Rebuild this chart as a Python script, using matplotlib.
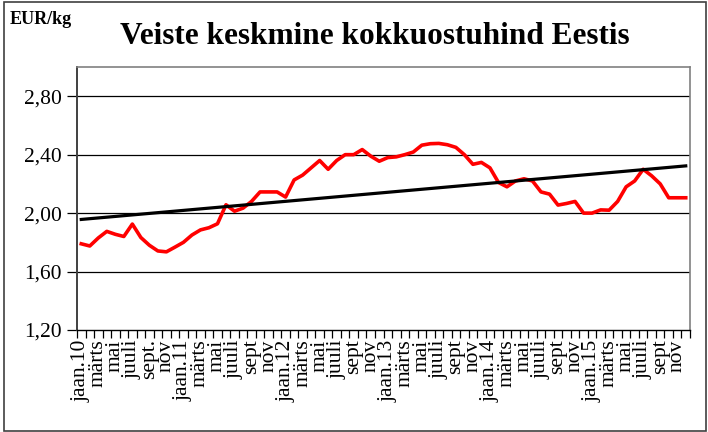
import numpy as np
import matplotlib
matplotlib.use("Agg")
import matplotlib.pyplot as plt
from matplotlib.patches import Rectangle

plt.rcParams['font.family'] = ['Liberation Serif', 'DejaVu Serif']

# monthly average purchase price of cattle, jan 2010 .. dec 2015 (EUR/kg)
prices = [
    1.79, 1.775, 1.83, 1.875, 1.855, 1.84, 1.925, 1.833, 1.78, 1.741, 1.735, 1.767,
    1.80, 1.85, 1.885, 1.90, 1.927, 2.057, 2.013, 2.034, 2.08, 2.145, 2.145, 2.145,
    2.11, 2.227, 2.26, 2.31, 2.36, 2.30, 2.36, 2.40, 2.40, 2.435, 2.39, 2.355,
    2.38, 2.385, 2.40, 2.418, 2.465, 2.475, 2.477, 2.468, 2.45, 2.40, 2.334, 2.347,
    2.31, 2.21, 2.18, 2.22, 2.235, 2.22, 2.145, 2.13, 2.055, 2.066, 2.08, 2.00,
    2.00, 2.022, 2.02, 2.08, 2.18, 2.22, 2.30, 2.255, 2.20, 2.105, 2.105, 2.105,
]
# labels shown for every second month
month_labels = [
    "jaan.10", "märts", "mai", "juuli", "sept.", "nov",
    "jaan.11", "märts", "mai", "juuli", "sept", "nov",
    "jaan.12", "märts", "mai", "juuli", "sept", "nov",
    "jaan.13", "märts", "mai", "juuli", "sept", "nov",
    "jaan.14", "märts", "mai", "juuli", "sept", "nov",
    "jaan.15", "märts", "mai", "juuli", "sept", "nov",
]
y_ticks = [1.20, 1.60, 2.00, 2.40, 2.80]

n = len(prices)
x = np.arange(n) + 0.5

fig = plt.figure(figsize=(7.08, 4.32), dpi=100)
ax = fig.add_axes([77/708, 1 - 330/432, (690 - 77)/708, (330 - 67)/432])

ax.set_xlim(0, n)
ax.set_ylim(1.2, 3.0)

for v in y_ticks[1:]:
    ax.axhline(v, color='black', lw=0.9, zorder=1)

ax.plot(x, prices, color='#ff0000', lw=2.6, zorder=3, solid_joinstyle='round')

# linear trend
k, b = np.polyfit(x, prices, 1)
ax.plot([x[0], x[-1]], [k*x[0] + b, k*x[-1] + b], color='black', lw=2.3, zorder=4)

ax.set_yticks(y_ticks)
ax.set_yticklabels([f"{v:.2f}".replace('.', ',') for v in y_ticks], fontsize=15.5)
ax.tick_params(axis='y', direction='out', length=7, width=0.9, pad=4)

ax.set_xticks(np.arange(n + 1))
ax.set_xticklabels([])
ax.tick_params(axis='x', direction='out', length=6, width=0.9)
for i, lab in enumerate(month_labels):
    ax.text(x[2*i], 1.2 - 0.065, lab, rotation=90, ha='center', va='top',
            fontsize=15.5, transform=ax.transData)

for s in ['top', 'right']:
    ax.spines[s].set_color('#808080')
    ax.spines[s].set_linewidth(1.2)
ax.spines['left'].set_color('#404040')
ax.spines['left'].set_linewidth(1.4)
ax.spines['bottom'].set_color('black')
ax.spines['bottom'].set_linewidth(1.0)

fig.text(120/708, 1 - 37/432, "Veiste keskmine kokkuostuhind Eestis", fontsize=22.5,
         fontweight='bold', ha='left', va='center')
fig.text(10/708, 1 - 19/432, "EUR/kg", fontsize=13, fontweight='bold',
         ha='left', va='center')

fig.patches.append(Rectangle((4/708, 1/432), 702/708, 429/432, transform=fig.transFigure,
                             fill=False, edgecolor='#404040', lw=1.2))

fig.savefig("out.png", dpi=100)
